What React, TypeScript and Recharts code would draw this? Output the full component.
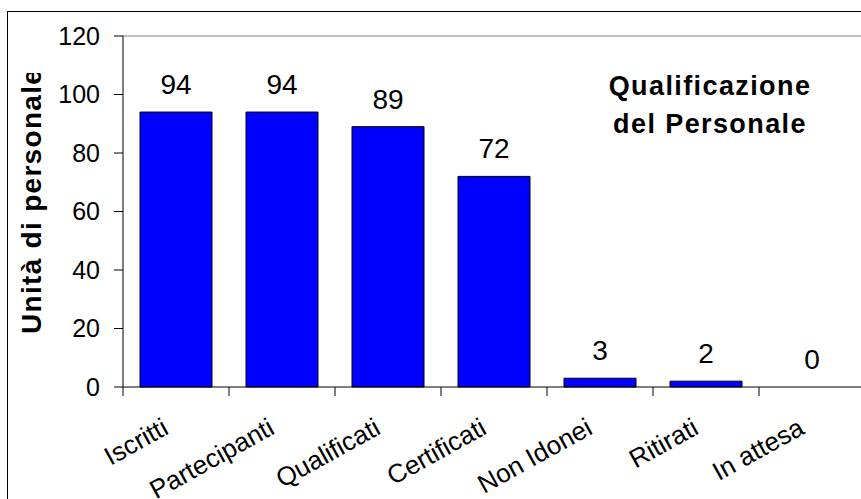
import React from 'react';
import { ComposedChart, Bar, Line, XAxis, YAxis, LabelList, ReferenceLine, Customized } from 'recharts';

const categories = ["Iscritti", "Partecipanti", "Qualificati", "Certificati", "Non Idonei", "Ritirati", "In attesa"];
const values = [94, 94, 89, 72, 3, 2, 0];
const yTicks = [0, 20, 40, 60, 80, 100, 120];
const titleLines = ["Qualificazione", "del Personale"];
const yLabel = "Unità di personale";

const data = categories.map((c, i) => ({ name: c, value: values[i] }));

const FONT = "'Liberation Sans', Arial, Helvetica, sans-serif";

const XTick = (props: any) => {
  const { x, y, payload, index } = props;
  const half = payload && typeof payload.offset === 'number' && payload.offset > 0 ? payload.offset : 53;
  return (
    <g>
      <line x1={x - half} x2={x - half} y1={y} y2={y + 9} stroke="#000" strokeWidth={1} />
      {index === categories.length - 1 && (
        <line x1={x + half} x2={x + half} y1={y} y2={y + 9} stroke="#000" strokeWidth={1} />
      )}
      <text
        transform={`translate(${x - 6},${y + 46}) rotate(-29)`}
        textAnchor="end"
        fontSize={26}
        fill="#000"
        fontFamily={FONT}
      >
        {payload.value}
      </text>
    </g>
  );
};

const Title = () => (
  <g>
    <text x={710} y={95} textAnchor="middle" fontSize={27} fontWeight="bold" fill="#000" fontFamily={FONT} style={{ letterSpacing: 1.4 }}>
      {titleLines[0]}
    </text>
    <text x={710} y={133} textAnchor="middle" fontSize={27} fontWeight="bold" fill="#000" fontFamily={FONT} style={{ letterSpacing: 1.4 }}>
      {titleLines[1]}
    </text>
  </g>
);

const YTitle = () => (
  <g>
    <defs>
      <clipPath id="ytitle-clip">
        <rect x={0} y={73} width={110} height={400} />
      </clipPath>
    </defs>
    <g clipPath="url(#ytitle-clip)">
      <text
        transform="translate(41,334) rotate(-90)"
        textAnchor="start"
        fontSize={28}
        fontWeight="bold"
        fill="#000"
        fontFamily={FONT}
        style={{ letterSpacing: 1.3 }}
      >
        {yLabel}
      </text>
    </g>
  </g>
);

export default function App() {
  return (
    <div style={{ position: 'absolute', left: 0, top: 0, width: 861, height: 499, overflow: 'hidden', background: '#fff' }}>
      <div style={{ position: 'absolute', left: 7, top: 11, width: 1000, height: 1000, border: '1px solid #000', boxSizing: 'border-box' }} />
      <div style={{ position: 'absolute', left: 0, top: 0 }}>
        <ComposedChart
          width={880}
          height={499}
          data={data}
          margin={{ top: 36, right: 15, bottom: 0, left: 0 }}
          style={{ fontFamily: FONT }}
        >
          <ReferenceLine y={120} stroke="#808080" strokeWidth={1} />
          <YAxis
            width={123}
            domain={[0, 120]}
            ticks={yTicks}
            interval={0}
            tickSize={9}
            tickMargin={14}
            axisLine={{ stroke: '#000' }}
            tickLine={{ stroke: '#000' }}
            tick={{ fill: '#000', fontSize: 25, fontFamily: FONT }}
          />
          <XAxis
            dataKey="name"
            height={112}
            interval={0}
            tickSize={0}
            tickMargin={0}
            axisLine={{ stroke: '#000' }}
            tickLine={false}
            tick={<XTick />}
          />
          <Bar dataKey="value" fill="#0000FF" stroke="#000" strokeWidth={1} barSize={72} isAnimationActive={false} />
          <Line dataKey="value" stroke="none" dot={false} activeDot={false} legendType="none" isAnimationActive={false}>
            <LabelList dataKey="value" position="top" offset={18} fontSize={28} fill="#000" fontFamily={FONT} />
          </Line>
          <Customized component={Title} />
          <Customized component={YTitle} />
        </ComposedChart>
      </div>
    </div>
  );
}
